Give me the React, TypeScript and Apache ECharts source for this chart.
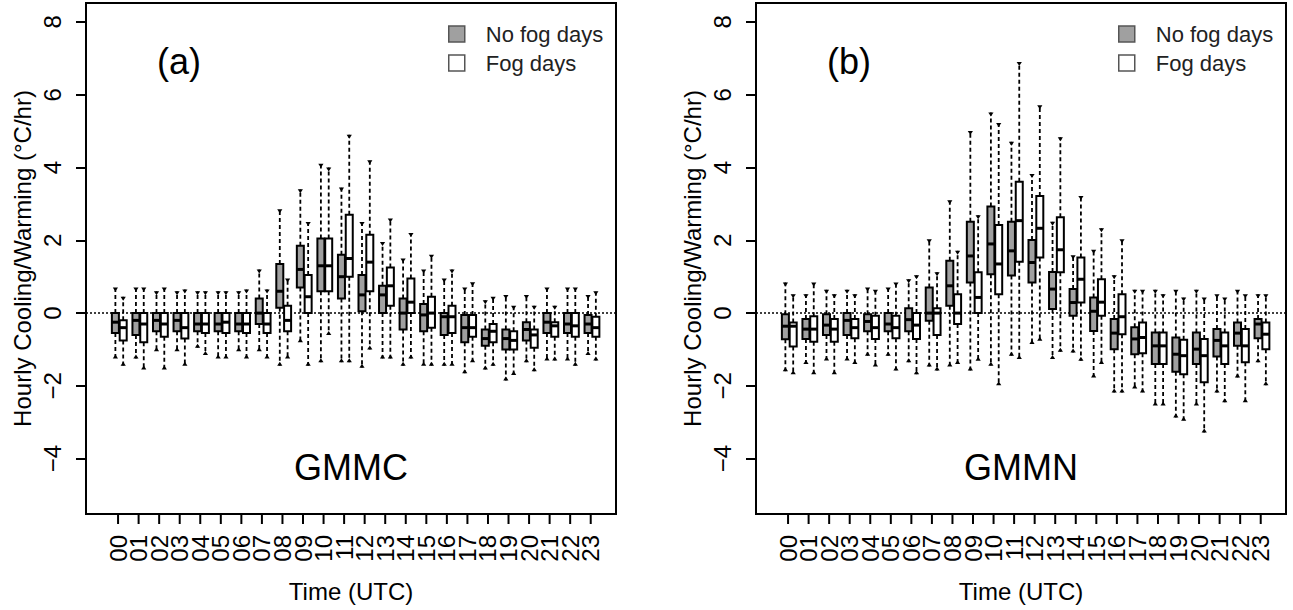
import React, { useEffect, useRef } from "react";
import * as echarts from "echarts";

// ---------- data ----------
const hours = ["00","01","02","03","04","05","06","07","08","09","10","11","12","13","14","15","16","17","18","19","20","21","22","23"];
const hourTicks = [0,1,2,3,4,5,6,7,8,9,10,11,12,13,14,15,16,17,18,19,20,21,22,23];
const yTicks = [-4, -2, 0, 2, 4, 6, 8];

// each box: [min, q1, median, q3, max]
const gmmcNoFog = [
  [-1.25, -0.55, -0.25, 0.0, 0.7], [-1.25, -0.6, -0.2, 0.0, 0.7], [-1.05, -0.5, -0.2, 0.0, 0.6],
  [-1.05, -0.5, -0.2, 0.0, 0.6], [-0.95, -0.5, -0.3, 0.0, 0.6], [-1.25, -0.5, -0.3, 0.0, 0.6],
  [-1.05, -0.5, -0.3, 0.0, 0.6], [-1.05, -0.3, 0.0, 0.4, 1.2], [-1.45, 0.15, 0.6, 1.35, 2.85],
  [-0.8, 0.7, 1.2, 1.85, 3.4], [-1.35, 0.6, 1.3, 2.05, 4.1], [-1.35, 0.4, 1.0, 1.6, 3.45],
  [-1.5, 0.05, 0.5, 1.05, 2.5], [-1.25, 0.0, 0.5, 0.75, 1.95], [-1.45, -0.45, 0.0, 0.4, 1.5],
  [-1.45, -0.5, -0.05, 0.25, 1.2], [-1.45, -0.6, -0.1, 0.0, 0.95], [-1.65, -0.8, -0.4, -0.05, 0.7],
  [-1.55, -0.9, -0.7, -0.45, 0.35], [-1.85, -1.0, -0.7, -0.45, 0.5], [-1.35, -0.75, -0.45, -0.25, 0.5],
  [-1.3, -0.55, -0.25, 0.0, 0.7], [-1.3, -0.55, -0.3, 0.0, 0.7], [-1.15, -0.55, -0.3, -0.05, 0.5],
];
const gmmcFog = [
  [-1.45, -0.75, -0.4, -0.2, 0.45], [-1.55, -0.8, -0.3, 0.0, 0.7], [-1.55, -0.65, -0.3, 0.0, 0.7],
  [-1.45, -0.7, -0.4, 0.0, 0.65], [-1.15, -0.55, -0.3, 0.0, 0.6], [-1.25, -0.55, -0.25, 0.0, 0.6],
  [-1.25, -0.55, -0.3, 0.0, 0.65], [-1.25, -0.55, -0.3, 0.0, 0.65], [-1.25, -0.5, -0.2, 0.2, 0.95],
  [-1.45, 0.0, 0.45, 1.05, 2.5], [-0.6, 0.6, 1.3, 2.05, 4.0], [-1.35, 1.0, 1.5, 2.7, 4.9],
  [-1.0, 0.6, 1.4, 2.15, 4.2], [-1.25, 0.2, 0.75, 1.25, 2.6], [-1.25, 0.0, 0.3, 0.95, 2.2],
  [-1.45, -0.4, 0.0, 0.45, 1.6], [-1.45, -0.55, -0.1, 0.2, 1.2], [-1.35, -0.65, -0.4, -0.05, 0.85],
  [-1.45, -0.8, -0.5, -0.3, 0.45], [-1.7, -1.0, -0.75, -0.5, 0.2], [-1.6, -0.95, -0.6, -0.45, 0.2],
  [-1.3, -0.65, -0.35, -0.25, 0.2], [-1.45, -0.65, -0.35, 0.0, 0.7], [-1.3, -0.65, -0.4, -0.1, 0.6],
];
const gmmnNoFog = [
  [-1.6, -0.72, -0.36, -0.03, 0.84], [-1.4, -0.71, -0.44, -0.16, 0.52], [-1.3, -0.6, -0.33, -0.03, 0.64],
  [-1.3, -0.6, -0.2, 0.0, 0.64], [-1.17, -0.5, -0.23, -0.03, 0.7], [-1.17, -0.5, -0.3, 0.0, 0.7],
  [-1.35, -0.5, -0.18, 0.13, 0.93], [-1.47, -0.21, 0.0, 0.7, 2.03], [-1.47, 0.2, 0.75, 1.44, 3.1],
  [-1.58, 0.84, 1.57, 2.51, 5.0], [-1.45, 1.07, 1.9, 2.93, 5.51], [-1.17, 1.03, 1.71, 2.51, 4.71],
  [-0.85, 0.84, 1.39, 2.01, 3.82], [-1.26, 0.11, 0.66, 1.13, 2.51], [-1.08, -0.07, 0.29, 0.66, 1.59],
  [-1.77, -0.49, 0.05, 0.43, 1.74], [-2.18, -0.99, -0.55, -0.16, 1.04], [-2.07, -1.13, -0.71, -0.39, 0.64],
  [-2.54, -1.4, -0.9, -0.53, 0.64], [-2.87, -1.61, -1.13, -0.67, 0.64], [-2.54, -1.4, -0.99, -0.53, 0.64],
  [-2.18, -1.19, -0.75, -0.44, 0.52], [-1.77, -0.9, -0.55, -0.26, 0.64], [-1.35, -0.69, -0.3, -0.16, 0.52],
];
const gmmnFog = [
  [-1.68, -0.92, -0.36, -0.26, 0.52], [-1.68, -0.79, -0.44, -0.09, 0.84], [-1.68, -0.79, -0.44, -0.16, 0.52],
  [-1.4, -0.69, -0.4, -0.16, 0.52], [-1.47, -0.71, -0.4, -0.07, 0.64], [-1.58, -0.69, -0.4, -0.07, 0.84],
  [-1.68, -0.71, -0.33, 0.0, 1.04], [-1.58, -0.6, 0.0, 0.13, 1.12], [-1.4, -0.3, 0.0, 0.52, 1.71],
  [-1.31, 0.0, 0.43, 1.12, 2.69], [-1.98, 0.52, 1.35, 2.42, 5.22], [-1.26, 1.41, 2.54, 3.61, 6.9],
  [-0.76, 1.53, 2.33, 3.22, 5.71], [-1.06, 1.12, 1.74, 2.63, 4.83], [-1.31, 0.29, 0.93, 1.53, 3.22],
  [-1.4, -0.07, 0.3, 0.93, 2.33], [-2.18, -0.58, -0.1, 0.52, 2.03], [-2.18, -1.1, -0.67, -0.26, 0.64],
  [-2.54, -1.4, -0.9, -0.53, 0.52], [-2.96, -1.68, -1.17, -0.73, 0.43], [-3.28, -1.9, -1.17, -0.71, 0.43],
  [-2.45, -1.4, -0.9, -0.53, 0.43], [-2.45, -1.35, -0.9, -0.44, 0.52], [-1.98, -0.99, -0.58, -0.26, 0.52],
];

// ---------- style ----------
const FONT = "'Liberation Sans', Arial, Helvetica, sans-serif";
const X_MIN = -1.56;
const X_MAX = 24.23;
const Y_MIN = -5.52;
const Y_MAX = 8.52;
const GRAY = "#a0a0a0";
const OFF_NOFOG = -0.13;
const OFF_FOG = 0.25;
const BOX_W = 7;

function makeRender(offset: number, fill: string) {
  return (params: any, api: any) => {
    const h = api.value(0) + offset;
    const mn = api.coord([h, api.value(1)]);
    const q1 = api.coord([h, api.value(2)]);
    const md = api.coord([h, api.value(3)]);
    const q3 = api.coord([h, api.value(4)]);
    const mx = api.coord([h, api.value(5)]);
    const cx = mn[0];
    const hw = BOX_W / 2;
    const dash = { stroke: "#000", lineWidth: 1.8, lineDash: [4, 3] };
    return {
      type: "group",
      children: [
        { type: "line", shape: { x1: cx, y1: q3[1], x2: cx, y2: mx[1] }, style: dash },
        { type: "line", shape: { x1: cx, y1: q1[1], x2: cx, y2: mn[1] }, style: dash },
        { type: "polygon", shape: { points: [[cx - 2.6, mx[1]], [cx + 2.6, mx[1]], [cx, mx[1] + 4]] }, style: { fill: "#000" } },
        { type: "polygon", shape: { points: [[cx - 2.6, mn[1]], [cx + 2.6, mn[1]], [cx, mn[1] - 4]] }, style: { fill: "#000" } },
        { type: "rect", shape: { x: cx - hw, y: q3[1], width: BOX_W, height: Math.max(q1[1] - q3[1], 0.5) }, style: { fill, stroke: "#000", lineWidth: 2 } },
        { type: "line", shape: { x1: cx - hw, y1: md[1], x2: cx + hw, y2: md[1] }, style: { stroke: "#000", lineWidth: 3 } },
      ],
    };
  };
}

function boxSeries(name: string, idx: number, boxes: number[][], offset: number, fill: string) {
  return {
    type: "custom",
    name,
    xAxisIndex: idx,
    yAxisIndex: idx,
    renderItem: makeRender(offset, fill),
    data: boxes.map((b, i) => [hourTicks[i], ...b]),
    encode: { x: 0, y: [1, 2, 3, 4, 5] },
    itemStyle: { color: fill },
    silent: true,
    z: 3,
  };
}

// hour ticks and their labels, placed through the x scale at the bottom of the frame
function hourAxisSeries(idx: number) {
  return {
    type: "custom",
    name: "hours" + idx,
    xAxisIndex: idx,
    yAxisIndex: idx,
    clip: false,
    silent: true,
    data: hourTicks.map((h) => [h, Y_MIN]),
    encode: { x: 0, y: 1 },
    renderItem: (params: any, api: any) => {
      const p = api.coord([api.value(0), api.value(1)]);
      return {
        type: "group",
        children: [
          { type: "line", shape: { x1: p[0], y1: p[1], x2: p[0], y2: p[1] + 10 }, style: { stroke: "#000", lineWidth: 2 } },
          {
            type: "text",
            x: p[0],
            y: p[1] + 21,
            rotation: Math.PI / 2,
            style: {
              text: hours[params.dataIndex],
              font: `24px ${FONT}`,
              fill: "#000",
              textAlign: "right",
              textVerticalAlign: "middle",
            },
          },
        ],
      };
    },
    z: 4,
  };
}

function zeroLine(idx: number) {
  return {
    type: "line",
    xAxisIndex: idx,
    yAxisIndex: idx,
    data: [[X_MIN, 0], [X_MAX, 0]],
    symbol: "none",
    silent: true,
    lineStyle: { color: "#000", width: 1.5, type: [2, 2] },
    z: 2,
  };
}

const axisText = { fontSize: 24, fontFamily: FONT, color: "#000" };

function xAxisFor(idx: number) {
  return {
    gridIndex: idx,
    type: "value",
    position: "bottom",
    min: X_MIN,
    max: X_MAX,
    axisLine: { show: false, onZero: false },
    splitLine: { show: false },
    axisTick: { show: false },
    axisLabel: { show: false },
    name: "Time (UTC)",
    nameLocation: "middle",
    nameGap: 65,
    nameTextStyle: axisText,
  };
}

function yAxisFor(idx: number) {
  return {
    gridIndex: idx,
    type: "value",
    position: "left",
    min: Y_MIN,
    max: Y_MAX,
    axisLine: { show: true, onZero: false, lineStyle: { color: "#000", width: 2 } },
    splitLine: { show: false },
    axisTick: { show: true, inside: false, customValues: yTicks, length: 10, lineStyle: { color: "#000", width: 2 } },
    axisLabel: {
      customValues: yTicks,
      formatter: (v: number) => String(v).replace("-", "\u2212"),
      rotate: 90,
      margin: 22,
      ...axisText,
    },
    name: "Hourly Cooling/Warming (°C/hr)",
    nameLocation: "middle",
    nameRotate: 90,
    nameGap: 52,
    nameTextStyle: axisText,
  };
}

function legendFor(left: number) {
  return {
    left,
    top: 23,
    orient: "vertical",
    itemWidth: 16,
    itemHeight: 16,
    itemGap: 7,
    padding: 0,
    selectedMode: false,
    textStyle: { fontSize: 22, fontFamily: FONT, color: "#222", padding: [0, 0, 0, 16], lineHeight: 16 },
    data: [
      { name: "No fog days", icon: "rect", itemStyle: { color: GRAY, borderColor: "#555", borderWidth: 1.5 } },
      { name: "Fog days", icon: "rect", itemStyle: { color: "#fff", borderColor: "#555", borderWidth: 1.5 } },
    ],
  };
}

function label(text: string, x: number, y: number, size: number) {
  return {
    type: "text",
    x,
    y,
    silent: true,
    z: 10,
    style: {
      text,
      font: `${size}px ${FONT}`,
      fill: "#000",
      textAlign: "center",
      textVerticalAlign: "middle",
    },
  };
}

export default function App() {
  const ref = useRef<HTMLDivElement>(null);
  useEffect(() => {
    if (!ref.current) return;
    const chart = echarts.init(ref.current, undefined, { renderer: "svg" });
    chart.setOption({
      animation: false,
      backgroundColor: "#fff",
      grid: [
        { left: 86, top: 3, width: 530, height: 511, show: true, borderColor: "#000", borderWidth: 2, backgroundColor: "transparent" },
        { left: 756, top: 3, width: 530, height: 511, show: true, borderColor: "#000", borderWidth: 2, backgroundColor: "transparent" },
      ],
      xAxis: [xAxisFor(0), xAxisFor(1)],
      yAxis: [yAxisFor(0), yAxisFor(1)],
      legend: [legendFor(448), legendFor(1118)],
      graphic: [
        label("(a)", 179, 61, 36),
        label("GMMC", 351, 467, 36),
        label("(b)", 849, 61, 36),
        label("GMMN", 1021, 467, 36),
      ],
      series: [
        zeroLine(0),
        zeroLine(1),
        boxSeries("No fog days", 0, gmmcNoFog, OFF_NOFOG, GRAY),
        boxSeries("Fog days", 0, gmmcFog, OFF_FOG, "#fff"),
        boxSeries("No fog days", 1, gmmnNoFog, OFF_NOFOG, GRAY),
        boxSeries("Fog days", 1, gmmnFog, OFF_FOG, "#fff"),
        hourAxisSeries(0),
        hourAxisSeries(1),
      ],
    });
    return () => chart.dispose();
  }, []);
  return (
    <div
      ref={ref}
      style={{ position: "fixed", left: 0, top: 0, width: 1293, height: 610, background: "#fff" }}
    />
  );
}
